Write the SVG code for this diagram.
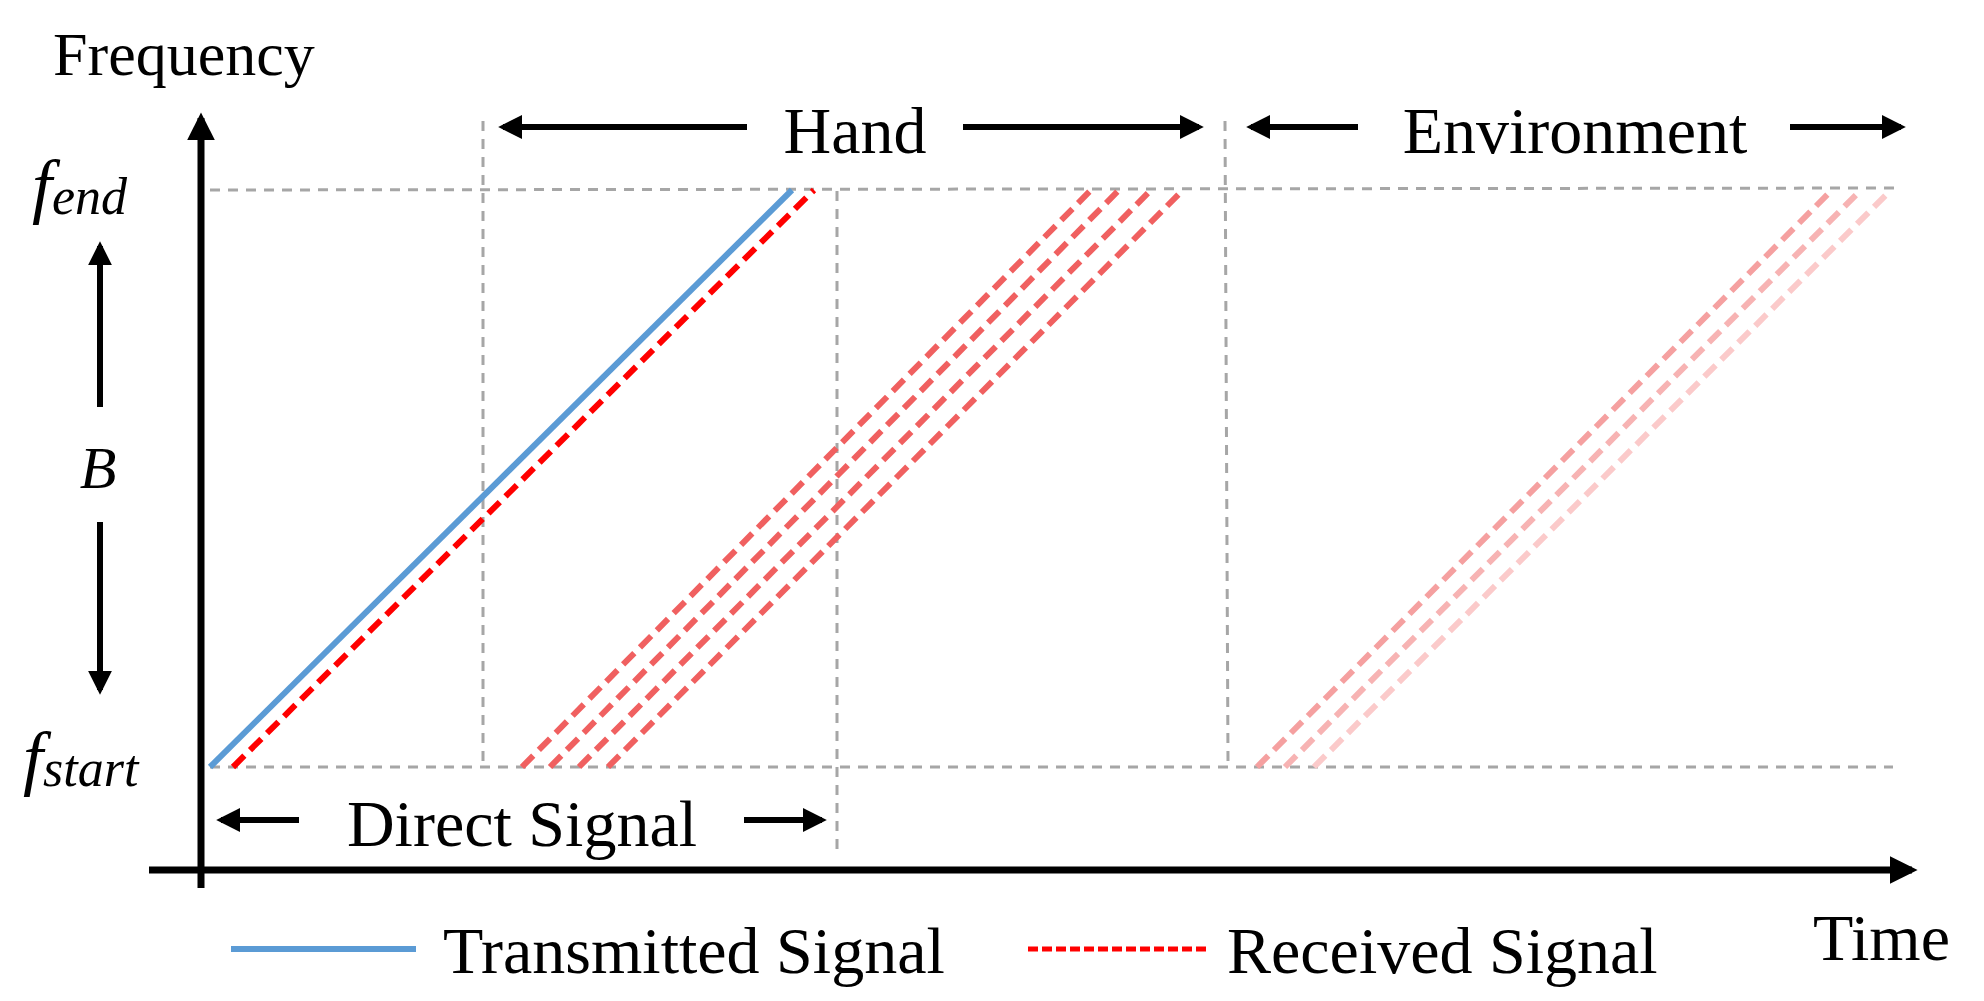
<svg xmlns="http://www.w3.org/2000/svg" width="1984" height="1001" viewBox="0 0 1984 1001">
<style>
.lbl{font-size:66px}
.math{font-style:italic}
.grid{stroke:#a6a6a6;stroke-width:3;stroke-dasharray:10 8;fill:none}
.ax{stroke:#000;stroke-width:7;fill:none}
.arr{stroke:#000;stroke-width:6;fill:none}
.rx{stroke-width:6;stroke-dasharray:16 8;fill:none}
</style>
<defs>
<marker id="ah" viewBox="0 0 10 10" refX="8" refY="5" markerWidth="4" markerHeight="4" orient="auto-start-reverse"><path d="M0,0L10,5L0,10z" fill="#000"/></marker>
</defs>
<rect width="1984" height="1001" fill="#fff"/>
<g id="grid">
<line class="grid" x1="210" y1="190" x2="1902" y2="188"/>
<line class="grid" x1="210" y1="767" x2="1893" y2="767"/>
<line class="grid" x1="483" y1="121" x2="483" y2="763"/>
<line class="grid" x1="837" y1="191" x2="837" y2="850"/>
<line class="grid" x1="1225" y1="121" x2="1228" y2="763"/>
</g>
<g id="connectors">
<line class="ax" x1="201" y1="888" x2="201" y2="118" marker-end="url(#ah)"/>
<line class="ax" x1="149" y1="870" x2="1912" y2="870" marker-end="url(#ah)"/>
<line class="arr" x1="100" y1="407" x2="100" y2="246" marker-end="url(#ah)"/>
<line class="arr" x1="100" y1="522" x2="100" y2="690" marker-end="url(#ah)"/>
<line class="arr" x1="747" y1="127" x2="503" y2="127" marker-end="url(#ah)"/>
<line class="arr" x1="963" y1="127" x2="1199" y2="127" marker-end="url(#ah)"/>
<line class="arr" x1="1358" y1="127" x2="1251" y2="127" marker-end="url(#ah)"/>
<line class="arr" x1="1790" y1="127" x2="1901" y2="127" marker-end="url(#ah)"/>
<line class="arr" x1="299" y1="820" x2="221" y2="820" marker-end="url(#ah)"/>
<line class="arr" x1="744" y1="820" x2="822" y2="820" marker-end="url(#ah)"/>
</g>
<g id="signals">
<line x1="210" y1="767" x2="792" y2="190" stroke="#5b9bd5" stroke-width="6"/>
<line class="rx" x1="233" y1="767" x2="814" y2="190" stroke="#ff0000"/>
<g stroke="#f06060">
<line class="rx" x1="522" y1="767" x2="1091" y2="190"/>
<line class="rx" x1="550" y1="767" x2="1119" y2="190"/>
<line class="rx" x1="579" y1="767" x2="1151" y2="190"/>
<line class="rx" x1="608" y1="767" x2="1183" y2="190"/>
</g>
<line class="rx" x1="1257" y1="767" x2="1832" y2="190" stroke="#f5a0a0"/>
<line class="rx" x1="1285" y1="767" x2="1861" y2="190" stroke="#f7b3b3"/>
<line class="rx" x1="1314" y1="767" x2="1891" y2="190" stroke="#fbcaca"/>
</g>
<g id="labels" font-family="'Liberation Serif', 'Times New Roman', 'DejaVu Serif', serif" fill="#000">
<text x="53" y="75" font-size="62">Frequency</text>
<text class="lbl" x="855" y="153" text-anchor="middle">Hand</text>
<text class="lbl" x="1575" y="153" text-anchor="middle">Environment</text>
<text class="lbl" x="522" y="846" text-anchor="middle">Direct Signal</text>
<text class="math" x="32" y="210" font-size="72">f<tspan font-size="52" dy="4">end</tspan></text>
<text class="math" x="98" y="488" font-size="60" text-anchor="middle">B</text>
<text class="math" x="23" y="782" font-size="72">f<tspan font-size="52" dy="4">start</tspan></text>
<text class="lbl" x="1813" y="960">Time</text>
</g>
<g id="legend" font-family="'Liberation Serif', 'Times New Roman', 'DejaVu Serif', serif" fill="#000">
<line x1="231" y1="949" x2="416" y2="949" stroke="#5b9bd5" stroke-width="6"/>
<text class="lbl" x="443" y="973">Transmitted Signal</text>
<line x1="1028" y1="949" x2="1208" y2="949" stroke="#ff0000" stroke-width="5" stroke-dasharray="10 4"/>
<text class="lbl" x="1227" y="973">Received Signal</text>
</g>
</svg>
